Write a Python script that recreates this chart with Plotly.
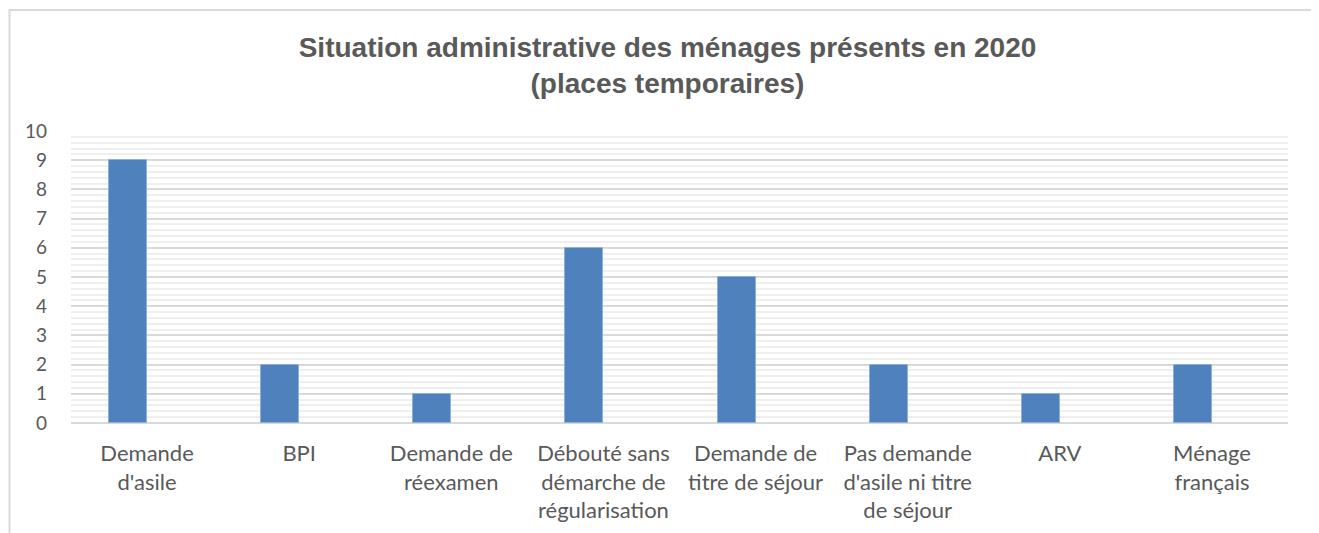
import plotly.graph_objects as go

categories = ["Demande<br>d'asile", "BPI", "Demande de<br>réexamen",
              "Débouté sans<br>démarche de<br>régularisation",
              "Demande de<br>titre de séjour",
              "Pas demande<br>d'asile ni titre<br>de séjour",
              "ARV", "Ménage<br>français"]
values = [9, 2, 1, 6, 5, 2, 1, 2]
y_ticks = list(range(0, 11))

fig = go.Figure()
fig.add_trace(go.Bar(
    x=list(range(len(categories))), y=values,
    width=0.25, offset=-0.25,
    marker=dict(color="#4F81BD", line=dict(color="#8FB0D9", width=1)),
    showlegend=False, hoverinfo="y"))

fig.update_layout(
    width=1319, height=533,
    margin=dict(l=63, r=39, t=123, b=118),
    paper_bgcolor="white", plot_bgcolor="white",
    title=dict(text="Situation administrative des ménages présents en 2020<br>(places temporaires)",
               x=0.5, xanchor="center", yref="container", y=1 - 49/533, yanchor="top",
               font=dict(family="Liberation Sans", size=28, color="#595959", weight="bold")),
    font=dict(family="Lato", size=22, color="#595959"),
    bargap=0,
    xaxis=dict(tickmode="array", tickvals=list(range(len(categories))), ticktext=categories,
               range=[-0.5, len(categories) - 0.5], showgrid=False, zeroline=False,
               showline=False, ticks="", ticklabelstandoff=15, automargin=False,
               tickfont=dict(family="Lato", size=22, color="#595959")),
    yaxis=dict(range=[0, 10], tickmode="array", tickvals=y_ticks,
               showgrid=True, gridcolor="#D9D9D9", gridwidth=1.5,
               zeroline=True, zerolinecolor="#D9D9D9", zerolinewidth=1.5,
               showline=False, ticks="", ticklabelstandoff=23, automargin=False,
               tickfont=dict(family="Lato", size=19, color="#595959"),
               minor=dict(dtick=0.2, showgrid=True, gridcolor="#EFEFEF", gridwidth=1.5)),
)

fig.add_shape(type="rect", xref="paper", yref="paper",
              x0=(9.5 - 71) / 1217, x1=(1316 - 71) / 1217,
              y0=(423 - 560) / 292, y1=(423 - 10) / 292,
              line=dict(color="#D9D9D9", width=2), fillcolor="rgba(0,0,0,0)", layer="below")

fig.write_html("out.html")
